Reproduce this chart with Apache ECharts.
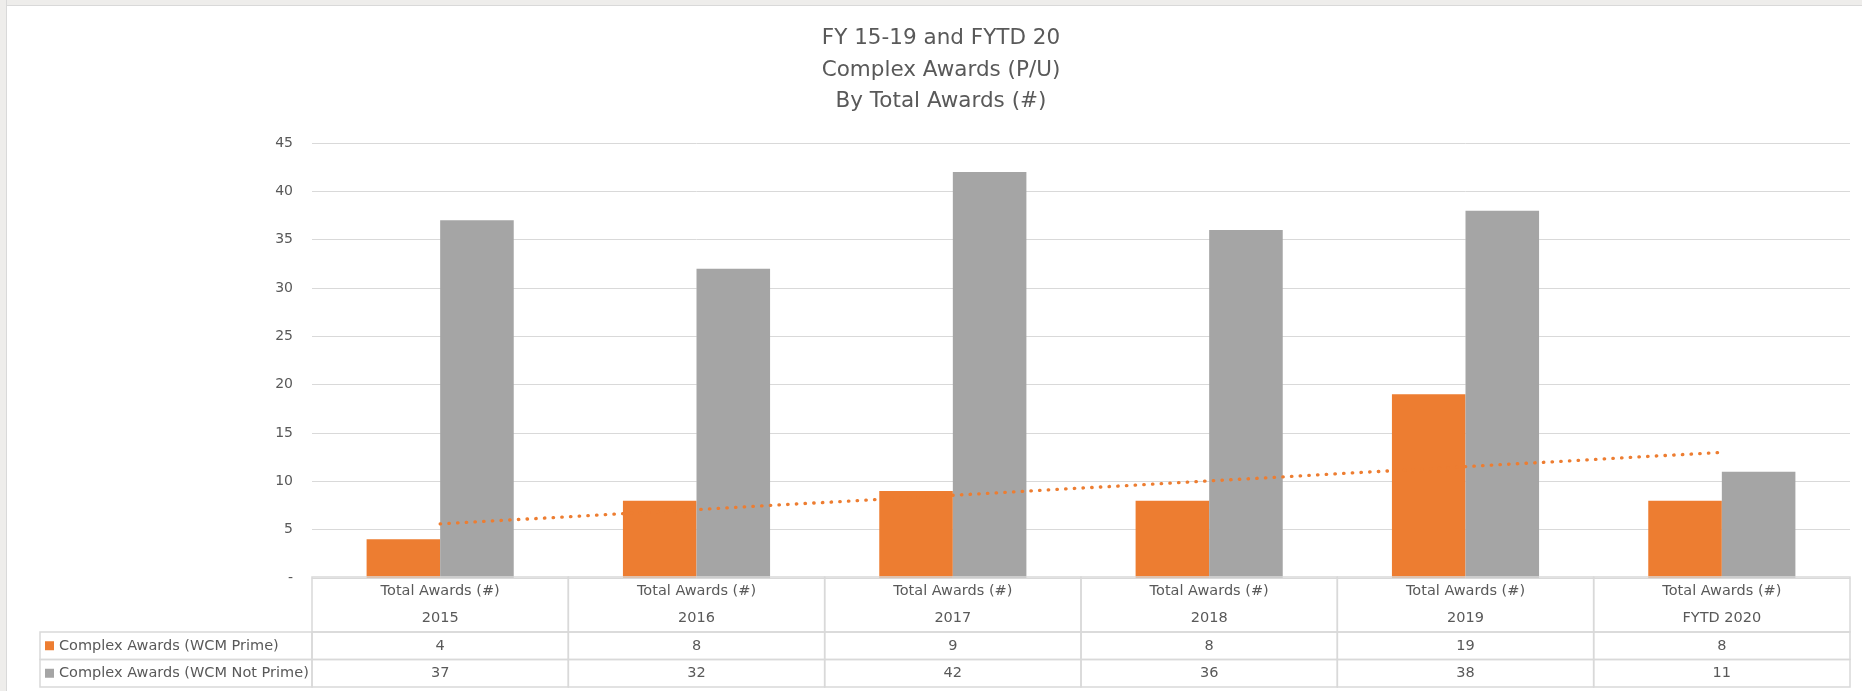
<!DOCTYPE html>
<html>
<head>
<meta charset="utf-8">
<script src="https://cdn.jsdelivr.net/npm/echarts@6/dist/echarts.min.js"></script>
<style>
  html, body { margin: 0; padding: 0; background: #ffffff; }
  #chart { position: absolute; left: 0; top: 0; width: 1862px; height: 691px; }
  .strip { position: absolute; background: #eeedeb; pointer-events: none; }
  #topStrip { left: 0; top: 0; width: 1862px; height: 5px; border-bottom: 1px solid #d9d9d9; }
  #leftStrip { left: 0; top: 0; width: 6px; height: 691px; border-right: 1px solid #d9d9d9; }
</style>
</head>
<body>
<div id="chart"></div>
<div id="topStrip" class="strip"></div>
<div id="leftStrip" class="strip"></div>
<script>
// ---- data ----
const titleLines = ['FY 15-19 and FYTD 20', 'Complex Awards (P/U)', 'By Total Awards (#)'];
const categories = ['2015', '2016', '2017', '2018', '2019', 'FYTD 2020'];
const headerLabel = 'Total Awards (#)';
const primeName = 'Complex Awards (WCM Prime)';
const notPrimeName = 'Complex Awards (WCM Not Prime)';
const primeValues = [4, 8, 9, 8, 19, 8];
const notPrimeValues = [37, 32, 42, 36, 38, 11];
// linear trendline of the Prime series, endpoints
const trendValues = [5.6, null, null, null, null, 13.0];
const yMin = 0, yMax = 45, yStep = 5;

// ---- styling ----
const FONT = 'DejaVu Sans';
const TEXT = '#595959';
const LINE = '#d9d9d9';
const ORANGE = '#ED7D31';
const GRAY = '#A5A5A5';
const TABLE_FONT = '14.5px "' + FONT + '"';

// table cells built from the arrays above (rows: header 0-2, prime 2-3, not prime 3-4)
const cells = [];
categories.forEach((c, i) => {
  cells.push({ col: i, r0: 0, r1: 2, texts: [headerLabel, c] });
  cells.push({ col: i, r0: 2, r1: 3, texts: [String(primeValues[i])] });
  cells.push({ col: i, r0: 3, r1: 4, texts: [String(notPrimeValues[i])] });
});
const legendRows = [
  { r0: 2, r1: 3, name: primeName, color: ORANGE },
  { r0: 3, r1: 4, name: notPrimeName, color: GRAY }
];
const LEGEND_LEFT = 40;

const chart = echarts.init(document.getElementById('chart'), null, { renderer: 'canvas' });

const option = {
  backgroundColor: '#ffffff',
  animation: false,
  title: {
    text: titleLines.join('\n'),
    left: 936,
    textAlign: 'center',
    top: 18,
    textStyle: { fontFamily: FONT, fontSize: 21.5, fontWeight: 'normal', color: TEXT, lineHeight: 31.5 }
  },
  grid: [
    { left: 312, right: 12, top: 143, height: 435 },
    { left: 312, right: 12, top: 577, height: 110 }
  ],
  xAxis: [
    {
      type: 'category', gridIndex: 0, data: categories,
      axisLine: { show: true, lineStyle: { color: LINE, width: 1 } },
      axisTick: { show: false }, axisLabel: { show: false }, splitLine: { show: false }
    },
    {
      type: 'category', gridIndex: 1, data: categories, show: false
    }
  ],
  yAxis: [
    {
      type: 'value', gridIndex: 0, min: yMin, max: yMax, interval: yStep,
      axisLine: { show: false }, axisTick: { show: false },
      axisLabel: {
        color: TEXT, fontFamily: FONT, fontSize: 14, margin: 19,
        formatter: v => (v === 0 ? '-' : String(v))
      },
      splitLine: { show: true, lineStyle: { color: LINE, width: 1 } }
    },
    {
      type: 'value', gridIndex: 1, min: 0, max: 4, inverse: true, show: false
    }
  ],
  series: [
    {
      name: primeName, type: 'bar', xAxisIndex: 0, yAxisIndex: 0,
      data: primeValues, barWidth: '28.7%', barGap: '0%',
      itemStyle: { color: ORANGE }
    },
    {
      name: notPrimeName, type: 'bar', xAxisIndex: 0, yAxisIndex: 0,
      data: notPrimeValues, barWidth: '28.7%', barGap: '0%',
      itemStyle: { color: GRAY }
    },
    {
      name: 'Linear trend', type: 'line', xAxisIndex: 0, yAxisIndex: 0,
      data: trendValues, connectNulls: true, symbol: 'none', z: 5,
      lineStyle: { color: ORANGE, width: 3.3, type: [0.5, 8.2], cap: 'round' }
    },
    {
      type: 'custom', xAxisIndex: 1, yAxisIndex: 1, z: 3,
      data: cells.map(c => [c.col, c.r0, c.r1]),
      renderItem: function (params, api) {
        const cell = cells[params.dataIndex];
        const p0 = api.coord([api.value(0), api.value(1)]);
        const p1 = api.coord([api.value(0), api.value(2)]);
        const w = api.size([1, 0])[0];
        const x = p0[0] - w / 2, y = p0[1], h = p1[1] - p0[1];
        const children = [{
          type: 'rect', shape: { x: x, y: y, width: w, height: h },
          style: { fill: null, stroke: LINE, lineWidth: 1.5 }
        }];
        const n = cell.texts.length;
        cell.texts.forEach((t, k) => {
          const cy = api.coord([api.value(0), cell.r0 + (cell.r1 - cell.r0) * (k + 0.5) / n])[1];
          children.push({
            type: 'text',
            style: {
              text: t, x: p0[0], y: cy, align: 'center', verticalAlign: 'middle',
              fill: TEXT, font: TABLE_FONT
            }
          });
        });
        return { type: 'group', children: children };
      }
    },
    {
      type: 'custom', xAxisIndex: 1, yAxisIndex: 1, z: 3,
      data: legendRows.map(r => [0, r.r0, r.r1]),
      renderItem: function (params, api) {
        const row = legendRows[params.dataIndex];
        const gx = params.coordSys.x;
        const y0 = api.coord([0, api.value(1)])[1];
        const y1 = api.coord([0, api.value(2)])[1];
        const cy = (y0 + y1) / 2;
        return {
          type: 'group',
          children: [
            { type: 'rect', shape: { x: LEGEND_LEFT, y: y0, width: gx - LEGEND_LEFT, height: y1 - y0 },
              style: { fill: null, stroke: LINE, lineWidth: 1.5 } },
            { type: 'rect', shape: { x: LEGEND_LEFT + 5, y: cy - 4.5, width: 9, height: 9 },
              style: { fill: row.color } },
            { type: 'text', style: { text: row.name, x: LEGEND_LEFT + 19, y: cy, align: 'left',
              verticalAlign: 'middle', fill: TEXT, font: TABLE_FONT } }
          ]
        };
      }
    }
  ]
};
chart.setOption(option);
</script>
</body>
</html>
